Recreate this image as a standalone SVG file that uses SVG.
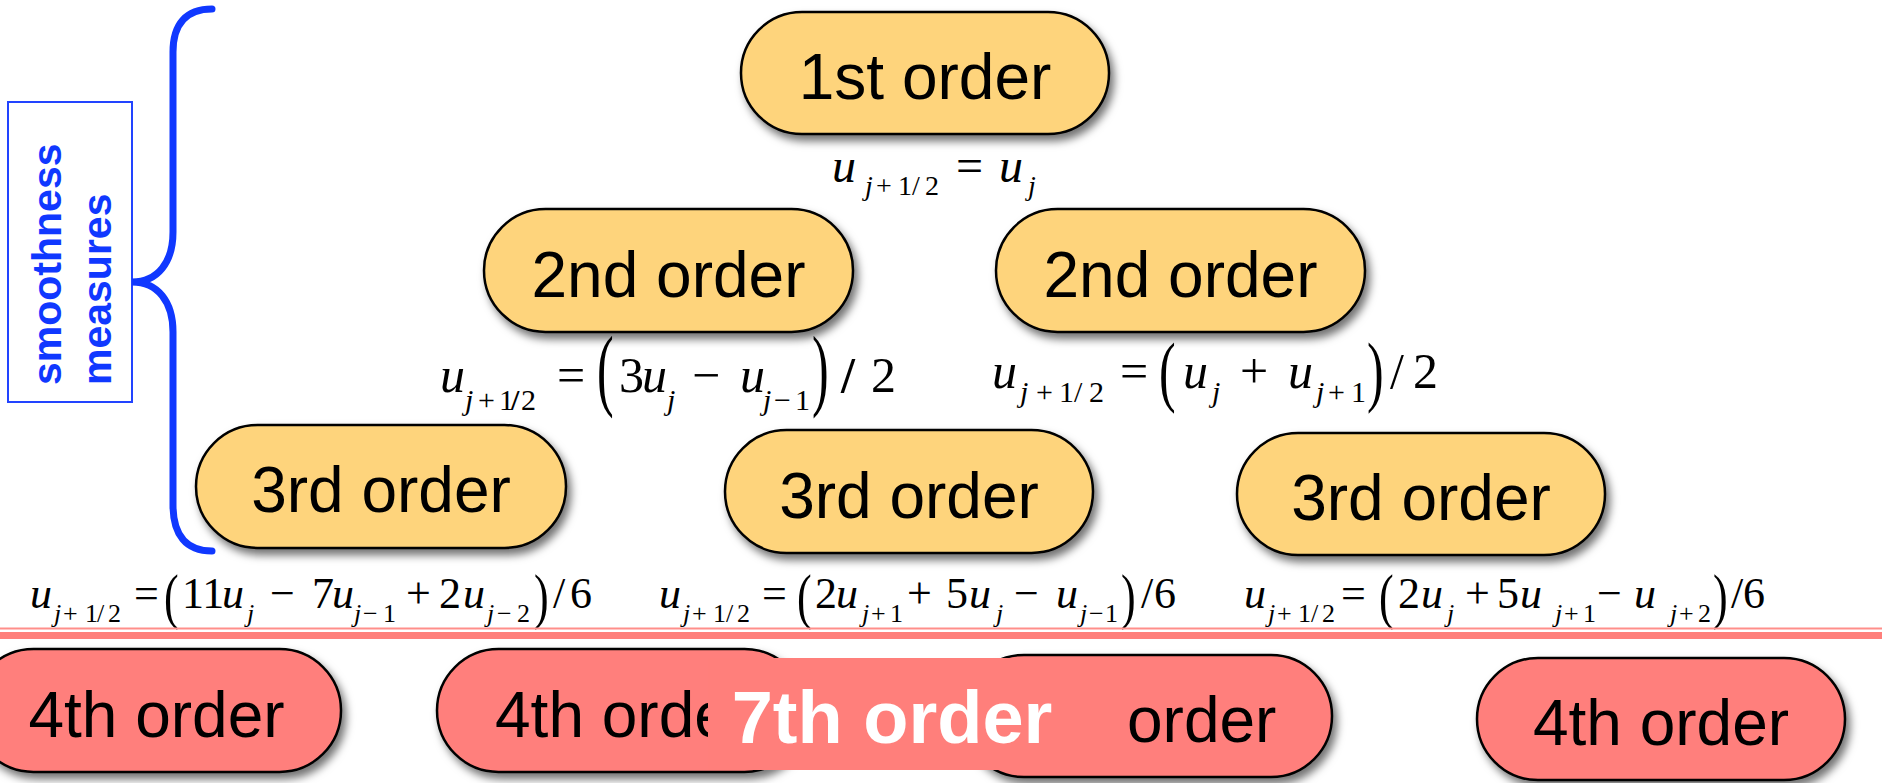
<svg xmlns="http://www.w3.org/2000/svg" width="1882" height="783" viewBox="0 0 1882 783">
<defs>
<filter id="sh" x="-10%" y="-20%" width="125%" height="150%">
<feDropShadow dx="4" dy="6" stdDeviation="4" flood-color="#000" flood-opacity="0.55"/>
</filter>
<style>
.py{fill:#FED47C;stroke:#000;stroke-width:2.5;filter:url(#sh)}
.pr{fill:#FF7F7B;stroke:#000;stroke-width:2.5;filter:url(#sh)}
.lbl{font-family:"Liberation Sans",Arial,sans-serif;font-size:64px;text-anchor:middle;fill:#000}
.f{font-family:"Liberation Serif","Times New Roman",serif;fill:#000}
.i{font-style:italic}
.blue{fill:#1038ff;font-family:"Liberation Sans",Arial,sans-serif;font-weight:bold;font-size:41px}
</style>
</defs>
<rect width="1882" height="783" fill="#fff"/>

<g id="smoothness">
<rect x="8" y="102" width="124" height="300" fill="#fff" stroke="#2244ff" stroke-width="2"/>
<text class="blue" transform="translate(61,385) rotate(-90)">smoothness</text>
<text class="blue" transform="translate(111,385) rotate(-90)">measures</text>
</g>
<g id="brace">
<path d="M 212 9 C 186 9 173 24 173 52 L 173 232 C 173 262 158 282 132 282 C 158 282 173 302 173 332 L 173 505 C 173 535 186 551 212 551" fill="none" stroke="#1038ff" stroke-width="7" stroke-linecap="round"/>
</g>

<g id="n1"><rect class="py" x="741" y="12" width="368" height="122" rx="61"/><text class="lbl" x="925" y="99">1st order</text></g>
<g id="n2a"><rect class="py" x="484" y="209" width="369" height="123" rx="61.5"/><text class="lbl" x="668.5" y="297">2nd order</text></g>
<g id="n2b"><rect class="py" x="996" y="209" width="369" height="123" rx="61.5"/><text class="lbl" x="1180.5" y="297">2nd order</text></g>
<g id="n3a"><rect class="py" x="196" y="425" width="370" height="123" rx="61.5"/><text class="lbl" x="381" y="512">3rd order</text></g>
<g id="n3b"><rect class="py" x="725" y="430" width="368" height="123" rx="61.5"/><text class="lbl" x="909" y="518">3rd order</text></g>
<g id="n3c"><rect class="py" x="1237" y="433" width="368" height="122" rx="61"/><text class="lbl" x="1421" y="520">3rd order</text></g>

<g id="formulas">
<text class="f" font-size="48">
<tspan class="i" x="832" y="182">u</tspan>
<tspan font-size="28" y="195"><tspan class="i" x="865">j</tspan><tspan x="876 898 912 925">+1/2</tspan></tspan>
<tspan x="956" y="182">=</tspan>
<tspan class="i" x="999">u</tspan>
<tspan class="i" font-size="28" x="1028" y="195">j</tspan>
</text>

<text class="f" font-size="50">
<tspan class="i" x="440" y="392">u</tspan>
<tspan font-size="30" y="410"><tspan class="i" x="465">j</tspan><tspan x="478 499">+1</tspan><tspan font-weight="bold" x="511">/</tspan><tspan x="521">2</tspan></tspan>
<tspan x="557" y="392">=</tspan>
<tspan x="619">3</tspan><tspan class="i" x="642">u</tspan>
<tspan class="i" font-size="30" x="667" y="410">j</tspan>
<tspan x="692" y="392">−</tspan>
<tspan class="i" x="740">u</tspan>
<tspan font-size="30" y="410"><tspan class="i" x="763">j</tspan><tspan x="774 795">−1</tspan></tspan>
<tspan font-weight="bold" x="841" y="392">/</tspan>
<tspan x="871">2</tspan>
</text>
<text class="f" font-size="50" transform="translate(597,399) scale(1,1.84)">(</text>
<text class="f" font-size="50" transform="translate(812,399) scale(1,1.84)">)</text>

<text class="f" font-size="50">
<tspan class="i" x="992" y="388">u</tspan>
<tspan font-size="30" y="402"><tspan class="i" x="1020">j</tspan><tspan x="1036 1059 1074 1089">+1/2</tspan></tspan>
<tspan x="1120" y="388">=</tspan>
<tspan class="i" x="1183">u</tspan>
<tspan class="i" font-size="30" x="1212" y="402">j</tspan>
<tspan x="1240" y="388">+</tspan>
<tspan class="i" x="1288">u</tspan>
<tspan font-size="30" y="402"><tspan class="i" x="1316">j</tspan><tspan x="1328 1351">+1</tspan></tspan>
<tspan x="1390" y="388">/</tspan><tspan x="1413">2</tspan>
</text>
<text class="f" font-size="50" transform="translate(1159,397) scale(1,1.58)">(</text>
<text class="f" font-size="50" transform="translate(1367,397) scale(1,1.58)">)</text>

<text class="f" font-size="44">
<tspan class="i" x="30" y="608">u</tspan>
<tspan font-size="26" y="622"><tspan class="i" x="54">j</tspan><tspan x="63 85 97 108">+1/2</tspan></tspan>
<tspan x="134" y="608">=</tspan>
<tspan x="182">11</tspan><tspan class="i" x="222">u</tspan>
<tspan class="i" font-size="26" x="247" y="622">j</tspan>
<tspan x="270" y="608">−</tspan>
<tspan x="312">7</tspan><tspan class="i" x="332">u</tspan>
<tspan font-size="26" y="622"><tspan class="i" x="354">j</tspan><tspan x="363 383">−1</tspan></tspan>
<tspan x="406" y="608">+</tspan>
<tspan x="439">2</tspan><tspan class="i" x="463">u</tspan>
<tspan font-size="26" y="622"><tspan class="i" x="487">j</tspan><tspan x="497 517">−2</tspan></tspan>
<tspan x="553" y="608">/</tspan><tspan x="570">6</tspan>
</text>
<text class="f" font-size="44" transform="translate(164,617) scale(1,1.37)">(</text>
<text class="f" font-size="44" transform="translate(534,617) scale(1,1.37)">)</text>

<text class="f" font-size="44">
<tspan class="i" x="659" y="608">u</tspan>
<tspan font-size="26" y="622"><tspan class="i" x="683">j</tspan><tspan x="692 713 726 737">+1/2</tspan></tspan>
<tspan x="762" y="608">=</tspan>
<tspan x="815">2</tspan><tspan class="i" x="836">u</tspan>
<tspan font-size="26" y="622"><tspan class="i" x="862">j</tspan><tspan x="871 890">+1</tspan></tspan>
<tspan x="907" y="608">+</tspan>
<tspan x="946">5</tspan><tspan class="i" x="969">u</tspan>
<tspan class="i" font-size="26" x="996" y="622">j</tspan>
<tspan x="1014" y="608">−</tspan>
<tspan class="i" x="1056">u</tspan>
<tspan font-size="26" y="622"><tspan class="i" x="1080">j</tspan><tspan x="1089 1105">−1</tspan></tspan>
<tspan x="1141" y="608">/</tspan><tspan x="1154">6</tspan>
</text>
<text class="f" font-size="44" transform="translate(797,617) scale(1,1.37)">(</text>
<text class="f" font-size="44" transform="translate(1121,617) scale(1,1.37)">)</text>

<text class="f" font-size="44">
<tspan class="i" x="1244" y="608">u</tspan>
<tspan font-size="26" y="622"><tspan class="i" x="1268">j</tspan><tspan x="1277 1298 1311 1322">+1/2</tspan></tspan>
<tspan x="1341" y="608">=</tspan>
<tspan x="1398">2</tspan><tspan class="i" x="1421">u</tspan>
<tspan class="i" font-size="26" x="1447" y="622">j</tspan>
<tspan x="1465" y="608">+</tspan>
<tspan x="1497">5</tspan><tspan class="i" x="1520">u</tspan>
<tspan font-size="26" y="622"><tspan class="i" x="1555">j</tspan><tspan x="1564 1583">+1</tspan></tspan>
<tspan x="1597" y="608">−</tspan>
<tspan class="i" x="1634">u</tspan>
<tspan font-size="26" y="622"><tspan class="i" x="1670">j</tspan><tspan x="1679 1698">+2</tspan></tspan>
<tspan x="1731" y="608">/</tspan><tspan x="1743">6</tspan>
</text>
<text class="f" font-size="44" transform="translate(1379,617) scale(1,1.37)">(</text>
<text class="f" font-size="44" transform="translate(1713,617) scale(1,1.37)">)</text>
</g>

<g id="divider">
<rect x="0" y="627.5" width="1882" height="2" fill="#FF8E8A"/>
<rect x="0" y="632" width="1882" height="7" fill="#FF7F7B"/>
</g>

<g id="n4a"><rect class="pr" x="-28" y="649" width="369" height="123" rx="61.5"/><text class="lbl" x="156.5" y="737">4th order</text></g>
<g id="n4b"><rect class="pr" x="437" y="649" width="369" height="123" rx="61.5"/><text class="lbl" x="495" y="737" style="text-anchor:start">4th orde</text></g>
<g id="n4c"><rect class="pr" x="963" y="655" width="369" height="122" rx="61"/><text class="lbl" x="1127" y="742" style="text-anchor:start">order</text></g>
<g id="n4d"><rect class="pr" x="1477" y="658" width="368" height="122" rx="61"/><text class="lbl" x="1661" y="745">4th order</text></g>

<g id="n7">
<rect x="708" y="658" width="412" height="112" fill="#FF7F7B"/>
<text x="892" y="743" font-family="'Liberation Sans',Arial,sans-serif" font-weight="bold" font-size="74" fill="#fff" text-anchor="middle">7th order</text>
</g>
</svg>
